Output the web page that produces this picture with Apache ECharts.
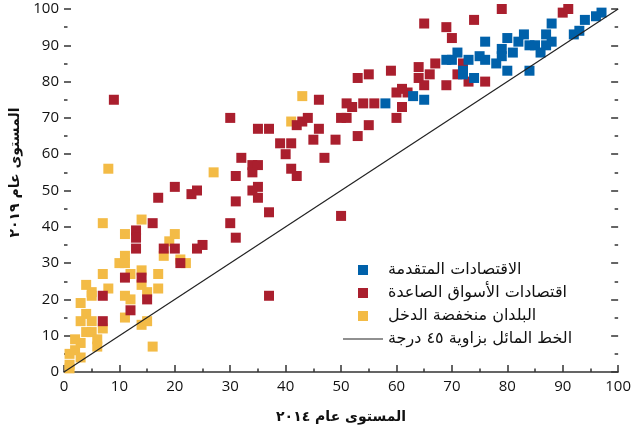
<!DOCTYPE html>
<html>
<head>
<meta charset="utf-8">
<script src="https://cdn.jsdelivr.net/npm/echarts@6/dist/echarts.min.js"></script>
<style>
  html, body { margin: 0; padding: 0; background: #fff; }
  #chart { width: 634px; height: 437px; }
</style>
</head>
<body>
<div id="chart"></div>
<script>
// Axis titles and tick labels
const xAxisTitle = 'المستوى عام ٢٠١٤';
const yAxisTitle = 'المستوى عام ٢٠١٩';
const axisMin = 0, axisMax = 100, axisStep = 10;

// Series names
const advancedName = 'الاقتصادات المتقدمة';
const emergingName = 'اقتصادات الأسواق الصاعدة';
const lowIncomeName = 'البلدان منخفضة الدخل';
const diagonalName = 'الخط المائل بزاوية ٤٥ درجة';

// [level 2014, level 2019]
const advanced = [
  [58,74],[63,76],[65,75],[69,86],[70,86],[71,88],[72,83],[72,82],[73,86],[74,81],
  [75,87],[76,91],[76,86],[78,85],[79,89],[79,87],[80,92],[80,83],[81,88],[82,91],
  [83,93],[84,90],[85,90],[84,83],[86,88],[87,93],[87,90],[88,91],[88,96],[92,93],
  [93,94],[94,97],[96,98],[97,99]
];

const emerging = [
  [9,75],[30,70],[32,59],[31,54],[20,51],[24,50],[23,49],[17,48],[31,47],[16,41],
  [30,41],[13,39],[13,37],[31,37],[13,34],[18,34],[20,34],[24,34],[25,35],[21,30],
  [11,26],[14,26],[7,21],[15,20],[12,17],[7,14],
  [46,75],[35,67],[37,67],[42,68],[43,69],[44,70],[46,67],[50,70],[51,70],[51,74],
  [52,73],[54,74],[56,74],[53,81],[55,82],[59,83],[60,77],[61,78],[62,77],[61,73],
  [60,70],[55,68],[53,65],[49,64],[45,64],[39,63],[41,63],[40,60],[47,59],[34,57],
  [35,57],[34,55],[41,56],[42,54],[35,51],[34,50],[35,48],[37,44],[50,43],[37,21],
  [79,100],[90,99],[91,100],[65,96],[69,95],[74,97],[70,92],[67,85],[64,84],[64,81],
  [66,82],[65,79],[69,79],[71,82],[72,85],[73,80],[76,80]
];

const lowIncome = [
  [8,56],[27,55],[43,76],[41,69],[7,41],[14,42],[11,38],[20,38],[19,36],[11,32],
  [10,30],[11,30],[18,32],[21,31],[22,30],[7,27],[12,27],[14,28],[17,27],[4,24],
  [5,22],[5,21],[8,23],[11,21],[12,20],[14,24],[15,22],[17,23],[3,19],[4,16],
  [3,14],[5,14],[4,11],[5,11],[7,12],[11,15],[14,13],[15,14],[2,9],[3,8],
  [6,9],[6,7],[16,7],[2,6],[3,4],[1,5],[1,2],[1,1]
];

const diagonal = [[0,0],[100,100]];

const colors = { advanced: '#0061AA', emerging: '#AA1F2E', lowIncome: '#F3BB46', line: '#222' };

const latin = '"Open Sans", "DejaVu Sans", sans-serif';
const arabic = '"DejaVu Sans", "Noto Sans", sans-serif';
const tickStyle = { color: '#333', width: 1.5 };
const sq = 'path://M0,0H10V10H0Z';
const lineIcon = 'path://M0,0H40V1.2H0Z';

const chart = echarts.init(document.getElementById('chart'), null, { renderer: 'canvas' });
chart.setOption({
  animation: false,
  backgroundColor: '#fff',
  grid: { left: 64, right: 13, top: 9, bottom: 65, containLabel: false },
  legend: {
    orient: 'vertical',
    left: 338,
    top: 257,
    itemWidth: 40,
    itemHeight: 10,
    itemGap: 7,
    symbolKeepAspect: true,
    textStyle: { fontFamily: arabic, fontSize: 16, color: '#111', lineHeight: 15 },
    data: [
      { name: advancedName, icon: sq },
      { name: emergingName, icon: sq },
      { name: lowIncomeName, icon: sq },
      { name: diagonalName, icon: lineIcon }
    ]
  },
  xAxis: {
    type: 'value', min: axisMin, max: axisMax, interval: axisStep,
    name: xAxisTitle, nameLocation: 'middle', nameGap: 38,
    nameTextStyle: { fontFamily: arabic, fontSize: 14, fontWeight: 'bold', color: '#111' },
    axisLine: { show: true, lineStyle: { color: '#333', width: 1.5 } },
    axisTick: { show: true, inside: true, length: 7, lineStyle: tickStyle },
    minorTick: { show: true, splitNumber: 2, length: 3.5, lineStyle: tickStyle },
    axisLabel: { fontFamily: latin, fontSize: 15, color: '#111', margin: 7 },
    splitLine: { show: false }
  },
  yAxis: [
    {
      type: 'value', min: axisMin, max: axisMax, interval: axisStep,
      name: yAxisTitle, nameLocation: 'middle', nameGap: 37, nameRotate: 90,
      nameTextStyle: { fontFamily: arabic, fontSize: 14, fontWeight: 'bold', color: '#111', padding: [0, 0, 0, 36] },
      axisLine: { show: false },
      axisTick: { show: true, inside: true, length: 7, lineStyle: tickStyle },
      minorTick: { show: true, splitNumber: 2, length: 3.5, lineStyle: tickStyle },
      axisLabel: { fontFamily: latin, fontSize: 15, color: '#111', margin: 5 },
      splitLine: { show: false }
    },
    {
      type: 'value', min: axisMin, max: axisMax, interval: axisStep, position: 'right',
      axisLine: { show: false },
      axisTick: { show: true, inside: true, length: 7, lineStyle: tickStyle },
      minorTick: { show: true, splitNumber: 2, length: 3.5, lineStyle: tickStyle },
      axisLabel: { show: false },
      splitLine: { show: false }
    }
  ],
  series: [
    { name: lowIncomeName, type: 'scatter', symbol: 'rect', symbolSize: 10, data: lowIncome,
      itemStyle: { color: colors.lowIncome, opacity: 1 } },
    { name: emergingName, type: 'scatter', symbol: 'rect', symbolSize: 10, data: emerging,
      itemStyle: { color: colors.emerging, opacity: 1 } },
    { name: advancedName, type: 'scatter', symbol: 'rect', symbolSize: 10, data: advanced,
      itemStyle: { color: colors.advanced, opacity: 1 } },
    { name: diagonalName, type: 'line', data: diagonal, symbol: 'none', showSymbol: false,
      lineStyle: { color: colors.line, width: 1.2 }, itemStyle: { color: colors.line }, z: 5 }
  ]
});
</script>
</body>
</html>
